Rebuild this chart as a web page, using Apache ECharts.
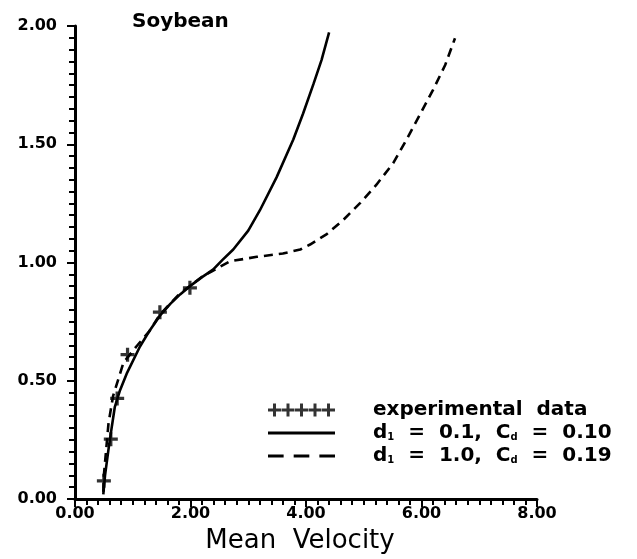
<!DOCTYPE html>
<html>
<head>
<meta charset="utf-8">
<script src="https://cdn.jsdelivr.net/npm/echarts@6/dist/echarts.min.js"></script>
<style>
html,body{margin:0;padding:0;background:#fff;}
#chart{width:637px;height:559px;}
</style>
</head>
<body>
<div id="chart"></div>
<script>
// ---- data ----
var titleText = 'Soybean';
var xAxisName = 'Mean  Velocity';
var legendNames = ['experimental data', 'd1 = 0.1, Cd = 0.10', 'd1 = 1.0, Cd = 0.19'];

var expVelocity = [0.50, 0.62, 0.73, 0.91, 1.47, 1.99];
var expValue    = [0.077, 0.253, 0.425, 0.61, 0.79, 0.893];

var solidVelocity = [0.49, 0.52, 0.58, 0.64, 0.69, 0.78, 0.895, 1.125, 1.30, 1.47, 1.65, 1.82, 1.99, 2.20, 2.39, 2.55, 2.74, 3.00, 3.20, 3.49, 3.78, 3.95, 4.13, 4.27, 4.40];
var solidValue    = [0.02, 0.10, 0.21, 0.31, 0.39, 0.46, 0.53, 0.645, 0.715, 0.775, 0.825, 0.865, 0.90, 0.938, 0.97, 1.01, 1.055, 1.135, 1.22, 1.36, 1.52, 1.63, 1.755, 1.857, 1.973];

var dashedVelocity = [0.49, 0.50, 0.52, 0.58, 0.66, 0.84, 1.07, 1.29, 1.47, 1.82, 1.99, 2.20, 2.37, 2.68, 3.15, 3.60, 3.90, 4.07, 4.36, 4.65, 4.94, 5.22, 5.51, 5.74, 5.97, 6.20, 6.41, 6.58];
var dashedValue    = [0.03, 0.10, 0.155, 0.32, 0.436, 0.577, 0.647, 0.71, 0.78, 0.87, 0.90, 0.94, 0.963, 1.005, 1.024, 1.038, 1.055, 1.076, 1.12, 1.181, 1.252, 1.329, 1.42, 1.519, 1.624, 1.73, 1.835, 1.948];

var xTicks = {min: 0, max: 8, interval: 2};
var yTicks = {min: 0, max: 2, interval: 0.5};

// ---- helpers ----
function zip(a, b) { return a.map(function (v, i) { return [v, b[i]]; }); }

var plusPath = 'path://M5,0H8V5H13V8H8V13H5V8H0V5H5Z';
function plusRow() {
  var p = '';
  for (var k = 0; k < 5; k++) {
    var o = k * 13.5;
    p += 'M' + (o + 5) + ',0H' + (o + 8) + 'V5H' + (o + 13) + 'V8H' + (o + 8) + 'V13H' + (o + 5) + 'V8H' + o + 'V5H' + (o + 5) + 'Z';
  }
  return 'path://' + p;
}
var solidIcon = 'path://M0,0H62V2.8H0Z';
var dashIcon = 'path://M0,0H14V2.8H0ZM23,0H37V2.8H23ZM46,0H60V2.8H46Z';

function legendFmt(name) {
  if (name.indexOf('d1') === 0) {
    return name.replace('d1', 'd{s|1}').replace('Cd', 'C{s|d}').replace(/ = /g, '  =  ').replace(', ', ',  ');
  }
  return name.replace(' ', '  ');
}

var chart = echarts.init(document.getElementById('chart'), null, {renderer: 'canvas'});
var axisCommon = {
  axisLine: {show: true, lineStyle: {color: '#000', width: 3}},
  axisTick: {show: true, inside: false, length: 8, lineStyle: {color: '#000', width: 2}},
  minorTick: {show: true, splitNumber: 10, length: 6, lineStyle: {color: '#000', width: 2}},
  splitLine: {show: false},
  axisLabel: {color: '#000', fontFamily: 'DejaVu Sans', fontWeight: 'bold', fontSize: 16,
              formatter: function (v) { return v.toFixed(2); }}
};

var option = {
  backgroundColor: '#fff',
  animation: false,
  title: {
    text: titleText, left: 127, top: 7,
    textStyle: {fontFamily: 'DejaVu Sans', fontWeight: 'bold', fontSize: 20, color: '#000'}
  },
  grid: {left: 75, right: 100, top: 26, bottom: 59, containLabel: false},
  xAxis: Object.assign({}, axisCommon, {
    type: 'value', min: xTicks.min, max: xTicks.max, interval: xTicks.interval,
    name: xAxisName, nameLocation: 'middle', nameGap: 29,
    nameTextStyle: {fontFamily: 'DejaVu Sans', fontSize: 26, color: '#000', padding: [0, 12, 0, 0]},
    axisLabel: Object.assign({}, axisCommon.axisLabel, {margin: 7})
  }),
  yAxis: Object.assign({}, axisCommon, {
    type: 'value', min: yTicks.min, max: yTicks.max, interval: yTicks.interval,
    axisLabel: Object.assign({}, axisCommon.axisLabel, {margin: 18})
  }),
  legend: {
    orient: 'vertical', left: 263, top: 395, itemGap: 3,
    itemWidth: 67, itemHeight: 13, symbolKeepAspect: true,
    itemStyle: {borderWidth: 0},
    data: [
      {name: legendNames[0], icon: plusRow()},
      {name: legendNames[1], icon: solidIcon},
      {name: legendNames[2], icon: dashIcon}
    ],
    formatter: legendFmt,
    textStyle: {
      fontFamily: 'DejaVu Sans', fontWeight: 'bold', fontSize: 20, color: '#000', lineHeight: 18,
      padding: [0, 0, 0, 33],
      rich: {s: {fontFamily: 'DejaVu Sans', fontWeight: 'bold', fontSize: 10, verticalAlign: 'bottom', padding: [8, 0, 0, 0], lineHeight: 18}}
    }
  },
  series: [
    {
      name: legendNames[0], type: 'scatter', data: zip(expVelocity, expValue),
      symbol: plusPath, symbolSize: 14, itemStyle: {color: '#000'}, z: 5
    },
    {
      name: legendNames[1], type: 'line', data: zip(solidVelocity, solidValue),
      showSymbol: false, symbol: 'none', smooth: false,
      lineStyle: {color: '#000', width: 2.6}, itemStyle: {color: '#000'}
    },
    {
      name: legendNames[2], type: 'line', data: zip(dashedVelocity, dashedValue),
      showSymbol: false, symbol: 'none', smooth: false,
      lineStyle: {color: '#000', width: 2.6, type: [9, 6]}, itemStyle: {color: '#000'}
    }
  ]
};
chart.setOption(option);
</script>
</body>
</html>
